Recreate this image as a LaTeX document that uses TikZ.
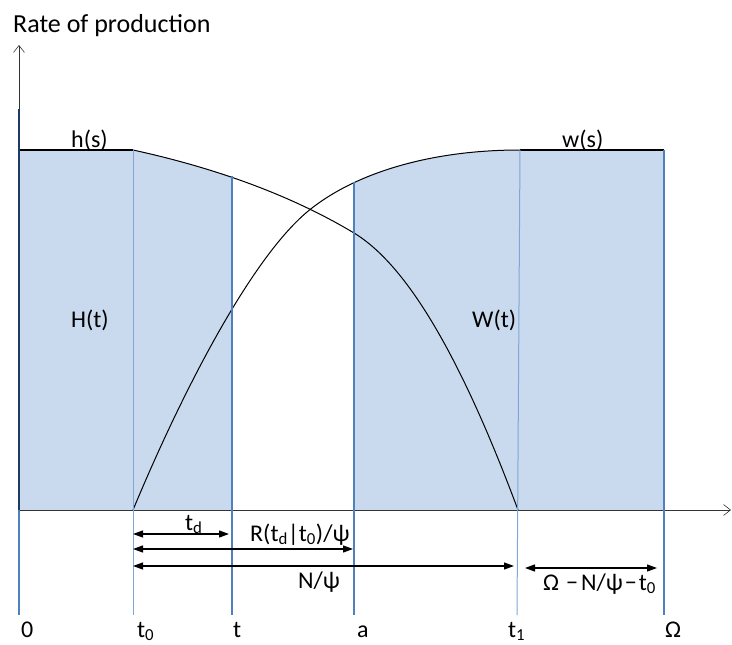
\documentclass[tikz,border=0pt]{standalone}
\usepackage{fontspec}
\setmainfont{Carlito}
\usetikzlibrary{arrows.meta}
\definecolor{zoneblue}{HTML}{C9DAEE}
\definecolor{lineblue}{HTML}{4F81BD}
\definecolor{paleblue}{HTML}{7FA6D6}
\definecolor{navy}{HTML}{1F3B63}
\tikzset{
  axis/.style={-{Straight Barb[length=7pt,width=11pt]},draw=black!80,line width=.6pt},
  curve/.style={draw=black,line width=1pt},
  flatline/.style={draw=black,line width=2pt},
  zone/.style={fill=zoneblue},
  tickline/.style={draw=lineblue,line width=2pt},
  thintick/.style={draw=paleblue,line width=1pt},
  span/.style={{Triangle[length=10pt,width=7pt]}-{Triangle[length=10pt,width=7pt]},draw=black,line width=1.2pt},
  txt/.style={font=\fontsize{24}{28}\selectfont,inner sep=0pt,anchor=base west},
}
\begin{document}
\begin{tikzpicture}[x=1pt,y=-1pt]
\useasboundingbox (0,0) rectangle (732,645);
\coordinate (origin) at (19,510);
\coordinate (w0) at (133,510);
\coordinate (wm) at (312,208);
\coordinate (w1) at (520,150);
\coordinate (h0) at (133,150);
\coordinate (hm) at (354,233);
\coordinate (h1) at (518,510);
% shaded areas H(t) and W(t)
\begin{scope}
  \clip (19,100) rectangle (232,510);
  \fill[zone] (19,150) -- (h0) .. controls (220,169) and (294,197) .. (hm) -- (354,510) -- (origin) -- cycle;
\end{scope}
\begin{scope}
  \clip (354,100) rectangle (664,510);
  \fill[zone] (wm) .. controls (357,173) and (430,150) .. (w1) -- (664,150) -- (664,510) -- (312,510) -- cycle;
\end{scope}
% axes
\coordinate (ytip) at (19,45);
\coordinate (xtip) at (731,510);
\draw[axis] (origin) -- (ytip);
\draw[axis] (origin) -- (xtip);
% w(s) and h(s)
\draw[curve] (w0) .. controls (188,378) and (257,250) .. (wm)
  .. controls (357,173) and (430,150) .. (w1);
\draw[curve] (h0) .. controls (220,169) and (294,197) .. (hm)
  .. controls (407,265) and (461,357) .. (h1);
\draw[flatline] (19,150) -- (h0);
\draw[flatline] (w1) -- (664,150);
% time marks
\draw[tickline] (19,615) -- (origin);
\draw[tickline,draw=navy] (origin) -- (19,109);
\draw[thintick] (h0) -- (133,615);
\draw[tickline] (232,176) -- (232,615);
\draw[tickline] (354,182) -- (354,615);
\draw[thintick] (w1) -- (517,615);
\draw[tickline] (664,150) -- (664,615);
% spans
\coordinate (td-a) at (133,534);
\coordinate (td-b) at (229,534);
\coordinate (r-a) at (133,549);
\coordinate (r-b) at (353,549);
\coordinate (n-a) at (133,566);
\coordinate (n-b) at (514,566);
\coordinate (om-a) at (525,568);
\coordinate (om-b) at (657,568);
\draw[span] (td-a) -- (td-b);
\draw[span] (r-a) -- (r-b);
\draw[span] (n-a) -- (n-b);
\draw[span] (om-a) -- (om-b);
% labels
\node[txt,font=\fontsize{26}{30}\selectfont] (ratelbl) at (13,32) {Rate of production};
\node[txt] (hlbl) at (71,147) {h(s)};
\node[txt] (wlbl) at (562,147) {w(s)};
\node[txt] (Hlbl) at (71,327) {H(t)};
\node[txt] (Wlbl) at (472,327) {W(t)};
\node[txt] (tdlbl) at (185,530) {t\textsubscript{d}};
\node[txt] (rlbl) at (250,541) {R(t\textsubscript{d}|t\textsubscript{0})/ψ};
\node[txt] (nlbl) at (298,588) {N/ψ};
\node[txt] (omlbl) at (543,590) {Ω\hspace{7pt}−\hspace{3pt}N/ψ\hspace{2pt}−\hspace{2pt}t\textsubscript{0}};
\node[txt] (zero) at (21,637) {0};
\node[txt] (t0lbl) at (137,637) {t\textsubscript{0}};
\node[txt] (tlbl) at (233,637) {t};
\node[txt] (albl) at (357,637) {a};
\node[txt] (t1lbl) at (508,637) {t\textsubscript{1}};
\node[txt] (omegalbl) at (665,637) {Ω};
\end{tikzpicture}
\end{document}
